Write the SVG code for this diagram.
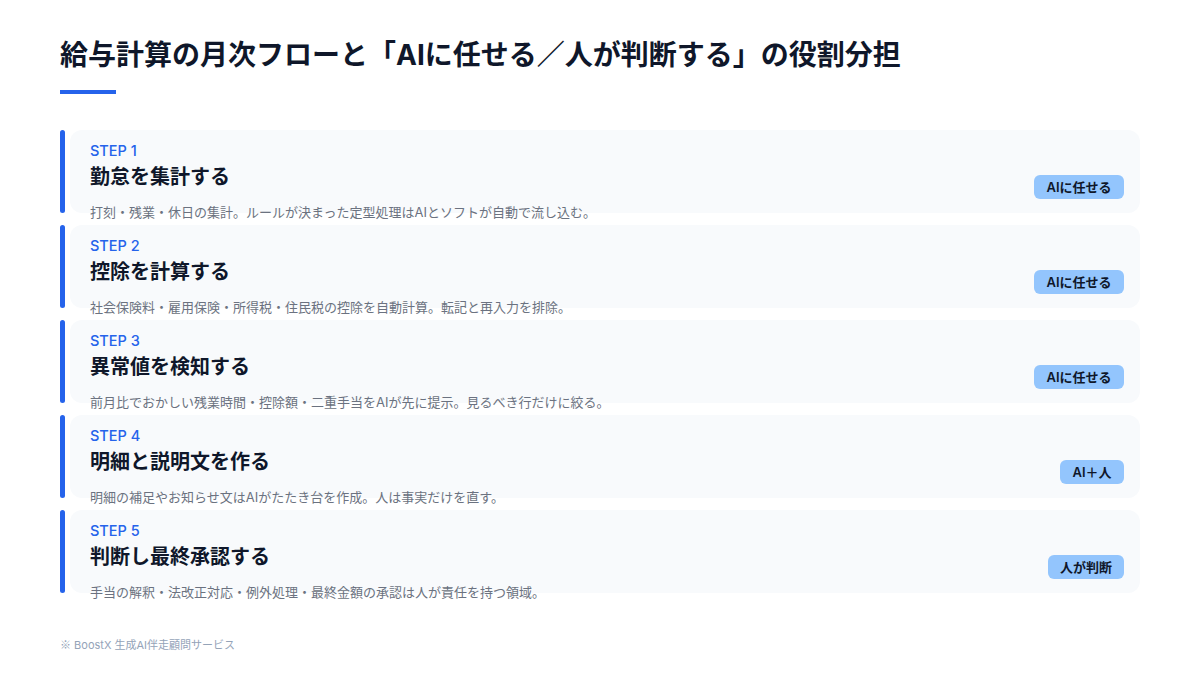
<svg xmlns="http://www.w3.org/2000/svg" width="1200" height="675" viewBox="0 0 1200 675">
<style>
text{font-family:Inter,"Noto Sans CJK JP","Noto Sans",sans-serif}
.title{font-size:28px;font-weight:700;fill:#0f172a}
.card{fill:#f8fafc}
.bar{fill:#2563eb}
.step{font-size:14.5px;font-weight:500;fill:#2563eb}
.head{font-size:20px;font-weight:600;fill:#0f172a}
.desc{font-size:13px;fill:#6b7280}
.badge{fill:#93c5fd}
.btext{font-size:13px;font-weight:600;fill:#0f172a;text-anchor:middle}
.foot{font-size:11px;fill:#94a3b8}
.cjk{font-family:"Noto Sans CJK JP",sans-serif}
</style>
<rect width="1200" height="675" fill="#ffffff"/>
<text class="title" x="60" y="65">給与計算の月次フローと「AIに任せる／人が判断する」の役割分担</text>
<rect x="60" y="90" width="56" height="4" fill="#2563eb"/>
<g id="connectors"></g>
<g id="step1">
<rect class="card" x="70" y="130" width="1070" height="83" rx="12"/>
<rect class="bar" x="60" y="130" width="5" height="83" rx="2.5"/>
<text class="step" x="90" y="156">STEP 1</text>
<text class="head" x="90" y="184">勤怠を集計する</text>
<text class="desc" x="90" y="217">打刻・残業・休日の集計。ルールが決まった定型処理はAIとソフトが自動で流し込む。</text>
<rect class="badge" x="1034" y="175" width="90" height="24" rx="6"/>
<text class="btext" x="1079" y="191.5">AIに任せる</text>
</g>
<g id="step2">
<rect class="card" x="70" y="225" width="1070" height="83" rx="12"/>
<rect class="bar" x="60" y="225" width="5" height="83" rx="2.5"/>
<text class="step" x="90" y="251">STEP 2</text>
<text class="head" x="90" y="279">控除を計算する</text>
<text class="desc" x="90" y="312">社会保険料・雇用保険・所得税・住民税の控除を自動計算。転記と再入力を排除。</text>
<rect class="badge" x="1034" y="270" width="90" height="24" rx="6"/>
<text class="btext" x="1079" y="286.5">AIに任せる</text>
</g>
<g id="step3">
<rect class="card" x="70" y="320" width="1070" height="83" rx="12"/>
<rect class="bar" x="60" y="320" width="5" height="83" rx="2.5"/>
<text class="step" x="90" y="346">STEP 3</text>
<text class="head" x="90" y="374">異常値を検知する</text>
<text class="desc" x="90" y="407">前月比でおかしい残業時間・控除額・二重手当をAIが先に提示。見るべき行だけに絞る。</text>
<rect class="badge" x="1034" y="365" width="90" height="24" rx="6"/>
<text class="btext" x="1079" y="381.5">AIに任せる</text>
</g>
<g id="step4">
<rect class="card" x="70" y="415" width="1070" height="83" rx="12"/>
<rect class="bar" x="60" y="415" width="5" height="83" rx="2.5"/>
<text class="step" x="90" y="441">STEP 4</text>
<text class="head" x="90" y="469">明細と説明文を作る</text>
<text class="desc" x="90" y="502">明細の補足やお知らせ文はAIがたたき台を作成。人は事実だけを直す。</text>
<rect class="badge" x="1060" y="460" width="64" height="24" rx="6"/>
<text class="btext" x="1092" y="476.5">AI＋人</text>
</g>
<g id="step5">
<rect class="card" x="70" y="510" width="1070" height="83" rx="12"/>
<rect class="bar" x="60" y="510" width="5" height="83" rx="2.5"/>
<text class="step" x="90" y="536">STEP 5</text>
<text class="head" x="90" y="564">判断し最終承認する</text>
<text class="desc" x="90" y="597">手当の解釈・法改正対応・例外処理・最終金額の承認は人が責任を持つ領域。</text>
<rect class="badge" x="1048" y="555" width="76" height="24" rx="6"/>
<text class="btext" x="1086" y="571.5">人が判断</text>
</g>
<text class="foot" x="60" y="649"><tspan class="cjk">※</tspan> BoostX 生成AI伴走顧問サービス</text>
</svg>
